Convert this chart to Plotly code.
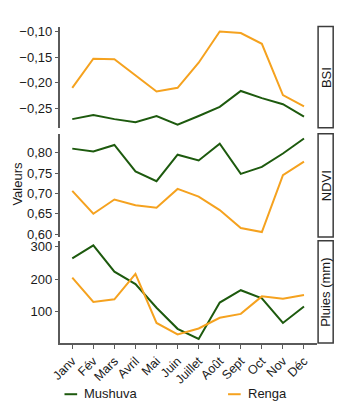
import plotly.graph_objects as go

# Monthly values per site
months = ["Janv", "Fév", "Mars", "Avril", "Mai", "Juin", "Juillet", "Août", "Sept", "Oct", "Nov", "Déc"]
sites = ["Mushuva", "Renga"]

bsi_mushuva = [-0.271, -0.263, -0.271, -0.277, -0.265, -0.282, -0.265, -0.247, -0.216, -0.230, -0.242, -0.266]
bsi_renga = [-0.210, -0.153, -0.154, -0.186, -0.217, -0.210, -0.161, -0.100, -0.103, -0.124, -0.224, -0.246]

ndvi_mushuva = [0.810, 0.803, 0.819, 0.754, 0.730, 0.795, 0.781, 0.822, 0.748, 0.765, 0.798, 0.835]
ndvi_renga = [0.706, 0.650, 0.685, 0.671, 0.665, 0.711, 0.692, 0.659, 0.615, 0.605, 0.745, 0.778]

pluies_mushuva = [264, 304, 223, 185, 112, 47, 16, 128, 166, 141, 65, 116]
pluies_renga = [205, 130, 138, 216, 65, 30, 48, 81, 93, 147, 140, 151]

panel_labels = ["BSI", "NDVI", "Pluies (mm)"]
bsi_ticks = [-0.25, -0.20, -0.15, -0.10]
ndvi_ticks = [0.60, 0.65, 0.70, 0.75, 0.80]
pluies_ticks = [100, 200, 300]

colors = {"Mushuva": "#1d5a0e", "Renga": "#f5a21f"}

W, H = 340, 412
FONT = "Liberation Sans, Arial, Helvetica, sans-serif"

def py(px):
    return 1 - px / H

def pxx(px):
    return px / W

x_dom = [pxx(52), pxx(316)]
panels = [
    ("y", [py(128), py(25)], [-0.288, -0.0904], bsi_ticks, bsi_mushuva, bsi_renga, ".2f"),
    ("y2", [py(239), py(134)], [0.593, 0.8466], ndvi_ticks, ndvi_mushuva, ndvi_renga, ".2f"),
    ("y3", [py(347), py(243)], [3, 318], pluies_ticks, pluies_mushuva, pluies_renga, "d"),
]

fig = go.Figure()
xs = list(range(len(months)))
layout = {}
shapes = []
annotations = []

for i, (yref, dom, rng, ticks, m_vals, r_vals, fmt) in enumerate(panels):
    xa = "x" if i == 0 else f"x{i + 1}"
    for name, vals in (("Mushuva", m_vals), ("Renga", r_vals)):
        fig.add_trace(go.Scatter(
            x=xs, y=vals, mode="lines", name=name,
            line=dict(color=colors[name], width=2),
            xaxis=xa, yaxis=yref, showlegend=False,
        ))
    ykey = "yaxis" if i == 0 else f"yaxis{i + 1}"
    xkey = "xaxis" if i == 0 else f"xaxis{i + 1}"
    layout[ykey] = dict(
        domain=dom, range=rng, tickvals=ticks, tickformat=fmt,
        showgrid=False, zeroline=False, showline=True, linecolor="#5a5a5a", linewidth=1.5,
        ticks="outside", ticklen=3, tickwidth=1, tickcolor="#5a5a5a",
        tickfont=dict(family=FONT, size=13, color="#1a1a1a"), anchor=xa,
    )
    last = i == len(panels) - 1
    layout[xkey] = dict(
        domain=x_dom, range=[-0.6, 11.6], anchor=yref,
        showgrid=False, zeroline=False,
        showline=last, linecolor="#5a5a5a", linewidth=1.5,
        ticks="outside" if last else "", ticklen=4, tickcolor="#5a5a5a",
        tickvals=xs, ticktext=months, showticklabels=last, tickangle=-45,
        tickfont=dict(family=FONT, size=12.5, color="#1a1a1a"),
        matches=None if i == 0 else "x",
    )
    # facet strip on the right
    shapes.append(dict(
        type="rect", xref="paper", yref="paper",
        x0=pxx(317.5), x1=pxx(333), y0=dom[0], y1=dom[1],
        fillcolor="white", line=dict(color="#3c3c3c", width=1.5),
    ))
    annotations.append(dict(
        x=pxx(325.5), y=(dom[0] + dom[1]) / 2, xref="paper", yref="paper",
        xanchor="center", yanchor="middle",
        text=panel_labels[i], textangle=-90, showarrow=False,
        font=dict(family=FONT, size=13, color="#1a1a1a"),
    ))

# y-axis title
annotations.append(dict(
    x=pxx(9), y=py(185), xref="paper", yref="paper", text="Valeurs",
    xanchor="center", yanchor="middle",
    textangle=-90, showarrow=False, font=dict(family=FONT, size=13, color="#1a1a1a"),
))

# legend at the bottom
legend_pos = {"Mushuva": 57, "Renga": 225}
for name in sites:
    x0 = legend_pos[name]
    shapes.append(dict(
        type="line", xref="paper", yref="paper",
        x0=pxx(x0), x1=pxx(x0 + 13), y0=py(399), y1=py(399),
        line=dict(color=colors[name], width=2),
    ))
    annotations.append(dict(
        x=pxx(x0 + 18), y=py(398), xref="paper", yref="paper", text=name,
        xanchor="left", yanchor="middle", showarrow=False,
        font=dict(family=FONT, size=13, color="#1a1a1a"),
    ))

fig.update_layout(
    width=W, height=H, margin=dict(l=0, r=0, t=0, b=0),
    paper_bgcolor="white", plot_bgcolor="white",
    separators=", ", showlegend=False,
    shapes=shapes, annotations=annotations, **layout,
)

fig.write_html("out.html", config={"displayModeBar": False})
